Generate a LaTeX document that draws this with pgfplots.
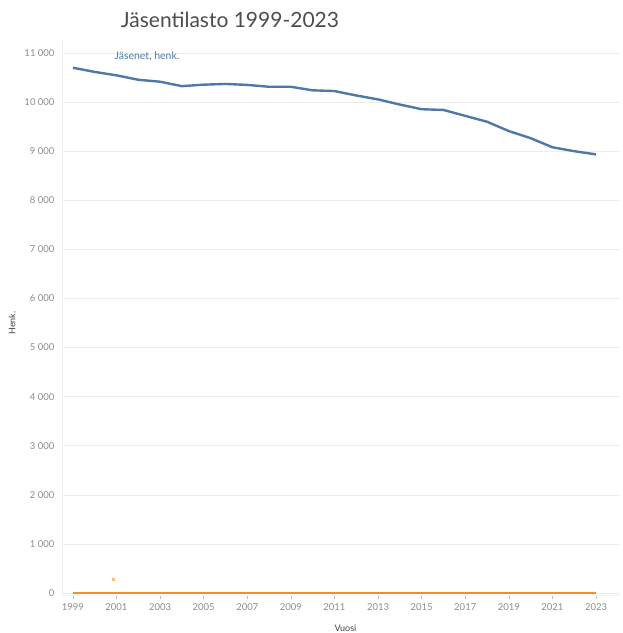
\documentclass[border=0pt]{standalone}
\usepackage{pgfplots}
\pgfplotsset{compat=1.18}
\usepackage{fontspec}
\setmainfont{Lato}
\definecolor{tblue}{HTML}{4E79A7}
\definecolor{torange}{HTML}{F28E2B}
\definecolor{tgray}{HTML}{8C8C8C}
\definecolor{tgrid}{HTML}{EDEDED}
\begin{document}
\begin{tikzpicture}[x=1pt,y=1pt]
\useasboundingbox (0,0) rectangle (623,633);
\node[text=black!70, font=\fontsize{21}{23}\selectfont, anchor=center] at (230,613) {Jäsentilasto 1999-2023};
\begin{axis}[
  at={(62pt,38pt)}, anchor=south west,
  scale only axis, width=558pt, height=555pt,
  xmin=1998.5, xmax=2024.1, ymin=-40, ymax=11265,
  xtick={1999,2001,...,2023}, minor x tick num=1,
  ytick={0,1000,...,11000},
  scaled y ticks=false,
  xticklabel style={/pgf/number format/1000 sep={}, text=tgray, font=\fontsize{9.5}{10}\selectfont, yshift=-1pt},
  yticklabel style={/pgf/number format/1000 sep={\ }, text=tgray, font=\fontsize{9.5}{10}\selectfont},
  /pgf/number format/assume math mode=true,
  axis x line=bottom, axis y line=left,
  axis line style={draw=tgrid, -},
  x axis line style={draw=tgrid!60!white},
  ymajorgrids, grid style={draw=tgrid, line width=0.6pt},
  tick align=outside, major tick length=4pt, minor tick length=3pt,
  ytick style={draw=none},
  xtick style={draw=tgrid!80!black, line width=0.5pt},
  minor tick style={draw=tgrid!80!black},
  clip=false,
  xlabel={Vuosi}, ylabel={Henk.},
  xlabel style={font=\fontsize{9}{10}\selectfont, text=black!75, at={(axis description cs:0.508,0)}, anchor=center, yshift=-33pt},
  ylabel style={font=\fontsize{9}{10}\selectfont, text=black!75, at={(axis description cs:0,0.49)}, anchor=center, yshift=50pt},
]
\addplot[color=tblue, line width=2.4pt, line join=round] coordinates {
(1999,10700) (2000,10615) (2001,10545) (2002,10455) (2003,10415) (2004,10325)
(2005,10355) (2006,10370) (2007,10350) (2008,10312) (2009,10312) (2010,10240)
(2011,10225) (2012,10135) (2013,10055) (2014,9950) (2015,9855) (2016,9840)
(2017,9720) (2018,9600) (2019,9410) (2020,9265) (2021,9080) (2022,9000) (2023,8935)
};
\addplot[color=torange, line width=1.2pt] coordinates {
(1999,0) (2000,0) (2001,0) (2002,0) (2003,0) (2004,0) (2005,0) (2006,0) (2007,0)
(2008,0) (2009,0) (2010,0) (2011,0) (2012,0) (2013,0) (2014,0) (2015,0) (2016,0)
(2017,0) (2018,0) (2019,0) (2020,0) (2021,0) (2022,0) (2023,0)
};
\addplot[only marks, mark=square*, mark size=0.7pt, color=torange!60!white] coordinates {(2000.85,285)};
\node[anchor=west, text=tblue, font=\fontsize{10.5}{12}\selectfont] at (axis cs:2000.75,10940) {Jäsenet, henk.};
\end{axis}
\end{tikzpicture}
\end{document}
